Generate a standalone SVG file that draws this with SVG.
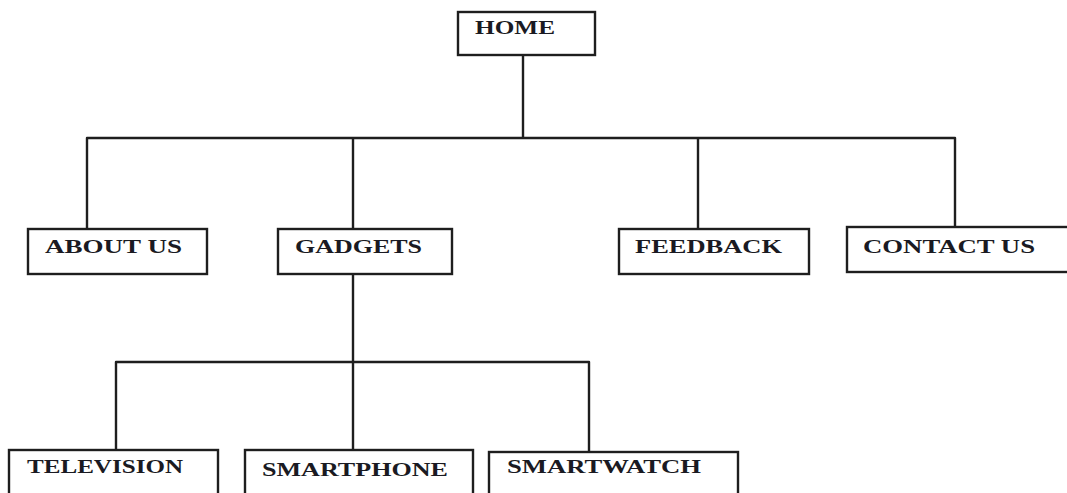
<svg xmlns="http://www.w3.org/2000/svg" width="1067" height="493" viewBox="0 0 1067 493">
  <style>
    .box { fill: #ffffff; stroke: #1e1e1e; stroke-width: 2.4; }
    .lbl { font-family: "Liberation Serif", "Times New Roman", serif; font-size: 19px; font-weight: bold; fill: #1a1a22; }
    .wire { fill: none; stroke: #1e1e1e; stroke-width: 2.4; stroke-linejoin: round; }
  </style>
  <rect width="1067" height="493" fill="#ffffff"/>

  <!-- connectors -->
  <g id="connectors">
    <line class="wire" x1="523" y1="55" x2="523" y2="138"/>
    <path class="wire" d="M87 228 V138 H955 V227"/>
    <line class="wire" x1="353" y1="138" x2="353" y2="229"/>
    <line class="wire" x1="698" y1="138" x2="698" y2="229"/>
    <line class="wire" x1="353" y1="274" x2="353" y2="362"/>
    <path class="wire" d="M116 450 V362 H589 V452"/>
    <line class="wire" x1="353" y1="362" x2="353" y2="450"/>
  </g>

  <!-- level 0 -->
  <g id="home">
    <rect class="box" x="458" y="12" width="137" height="43"/>
    <text class="lbl" x="475" y="34" textLength="80" lengthAdjust="spacingAndGlyphs">HOME</text>
  </g>

  <!-- level 1 -->
  <g id="about-us">
    <rect class="box" x="28" y="229" width="179" height="45"/>
    <text class="lbl" x="45" y="253" textLength="137" lengthAdjust="spacingAndGlyphs">ABOUT US</text>
  </g>
  <g id="gadgets">
    <rect class="box" x="278" y="229" width="174" height="45"/>
    <text class="lbl" x="295" y="253" textLength="127" lengthAdjust="spacingAndGlyphs">GADGETS</text>
  </g>
  <g id="feedback">
    <rect class="box" x="619" y="229" width="190" height="45"/>
    <text class="lbl" x="635" y="253" textLength="147" lengthAdjust="spacingAndGlyphs">FEEDBACK</text>
  </g>
  <g id="contact-us">
    <rect class="box" x="847" y="227" width="230" height="45"/>
    <text class="lbl" x="863" y="253" textLength="172" lengthAdjust="spacingAndGlyphs">CONTACT US</text>
  </g>

  <!-- level 2 -->
  <g id="television">
    <rect class="box" x="9" y="450" width="209" height="60"/>
    <text class="lbl" x="27" y="473" textLength="156" lengthAdjust="spacingAndGlyphs">TELEVISION</text>
  </g>
  <g id="smartphone">
    <rect class="box" x="245" y="450" width="228" height="60"/>
    <text class="lbl" x="262" y="476" textLength="186" lengthAdjust="spacingAndGlyphs">SMARTPHONE</text>
  </g>
  <g id="smartwatch">
    <rect class="box" x="489" y="452" width="249" height="60"/>
    <text class="lbl" x="507" y="473" textLength="194" lengthAdjust="spacingAndGlyphs">SMARTWATCH</text>
  </g>
</svg>
